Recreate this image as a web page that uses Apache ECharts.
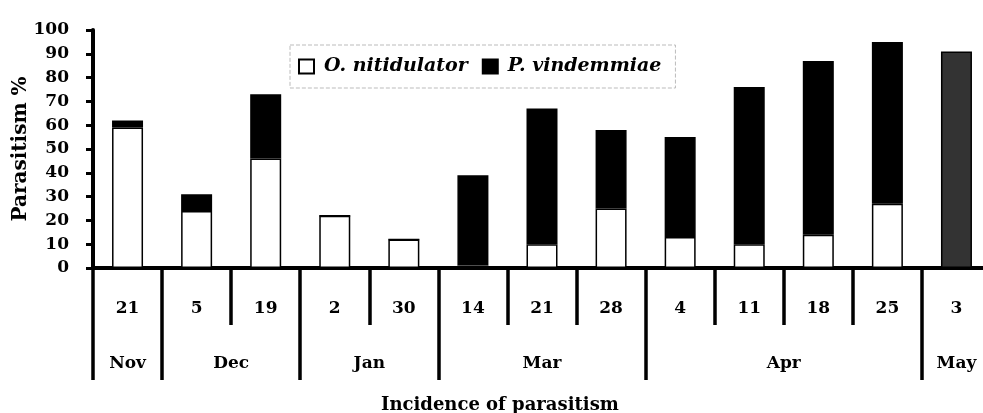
<!DOCTYPE html>
<html>
<head>
<meta charset="utf-8">
<script src="https://cdn.jsdelivr.net/npm/echarts@6/dist/echarts.min.js"></script>
<style>
html,body{margin:0;padding:0;background:#fff;}
#chart{width:983px;height:413px;}
</style>
</head>
<body>
<div id="chart"></div>
<script>
// ---- data ----
const days = ['21', '5', '19', '2', '30', '14', '21', '28', '4', '11', '18', '25', '3'];
const monthNames = ['Nov', 'Dec', 'Jan', 'Mar', 'Apr', 'May'];
const monthSpans = [1, 2, 2, 3, 4, 1];
const oNitidulator = [59, 24, 46, 22, 12, 1, 10, 25, 13, 10, 14, 27, 0];
const pVindemmiae = [3, 7, 27, 0, 0, 38, 57, 33, 42, 66, 73, 68, 91];
const yTicks = [0, 10, 20, 30, 40, 50, 60, 70, 80, 90, 100];

// month boundaries / centres in category units (derived from spans)
const monthStarts = [];
const monthCenters = [];
let acc = 0;
monthSpans.forEach(function (s) { monthStarts.push(acc); monthCenters.push(acc + s / 2); acc += s; });
const monthBounds = monthStarts.concat([acc]);

const FONT = 'DejaVu Serif';
const chart = echarts.init(document.getElementById('chart'), null, {renderer: 'canvas'});

chart.setOption({
  backgroundColor: '#fff',
  animation: false,
  title: {
    text: 'Incidence of parasitism',
    left: 376, top: 391,
    textStyle: {fontFamily: FONT, fontWeight: 'bold', fontSize: 18, color: '#000'}
  },
  legend: {
    left: 290, top: 45,
    padding: [12, 14, 12, 8],
    borderColor: '#bbb', borderWidth: 1, borderType: 'dashed',
    itemWidth: 15, itemHeight: 14, itemGap: 14,
    icon: 'rect',
    textStyle: {fontFamily: FONT, fontWeight: 'bold', fontStyle: 'italic', fontSize: 19, color: '#000', padding: [0, 0, 0, 5]},
    data: ['O. nitidulator', 'P. vindemmiae']
  },
  grid: {left: 93, right: -8, top: 30, bottom: 145, containLabel: false, outerBoundsMode: 'none'},
  xAxis: [
    {
      type: 'category', data: days, position: 'bottom',
      axisLine: {lineStyle: {color: '#000', width: 4}},
      axisTick: {show: true, length: 57, lineStyle: {color: '#000', width: 3.5}},
      axisLabel: {margin: 32, fontFamily: FONT, fontWeight: 'bold', fontSize: 17, color: '#000'},
      splitLine: {show: false}
    },
    {
      type: 'value', min: 0, max: acc, position: 'bottom',
      axisLine: {show: false},
      axisTick: {show: true, customValues: monthBounds, length: 112, lineStyle: {color: '#000', width: 3.5}},
      axisLabel: {
        show: true, customValues: monthCenters, margin: 87,
        fontFamily: FONT, fontWeight: 'bold', fontSize: 17, color: '#000',
        formatter: function (v) { const i = monthCenters.indexOf(v); return i >= 0 ? monthNames[i] : ''; }
      },
      splitLine: {show: false}
    }
  ],
  yAxis: {
    type: 'value', min: yTicks[0], max: yTicks[yTicks.length - 1], interval: yTicks[1] - yTicks[0],
    name: 'Parasitism %', nameLocation: 'middle', nameGap: 62, nameRotate: 90, nameMoveOverlap: false,
    nameTextStyle: {fontFamily: FONT, fontWeight: 'bold', fontSize: 20, color: '#000'},
    axisLine: {show: true, lineStyle: {color: '#000', width: 4}},
    axisTick: {show: true, length: 7, lineStyle: {color: '#000', width: 3}},
    axisLabel: {margin: 24, fontFamily: FONT, fontWeight: 'bold', fontSize: 17, color: '#000'},
    splitLine: {show: false}
  },
  series: [
    {
      name: 'O. nitidulator', type: 'bar', stack: 'p', barWidth: 31,
      itemStyle: {color: '#fff', borderColor: '#000', borderWidth: 1.5},
      data: oNitidulator
    },
    {
      name: 'P. vindemmiae', type: 'bar', stack: 'p', barWidth: 31,
      itemStyle: {color: '#000', borderColor: '#000', borderWidth: 1.5},
      data: pVindemmiae.map(function (v, i) {
        return i === pVindemmiae.length - 1 ? {value: v, itemStyle: {color: '#333'}} : v;
      })
    }
  ]
});
</script>
</body>
</html>
